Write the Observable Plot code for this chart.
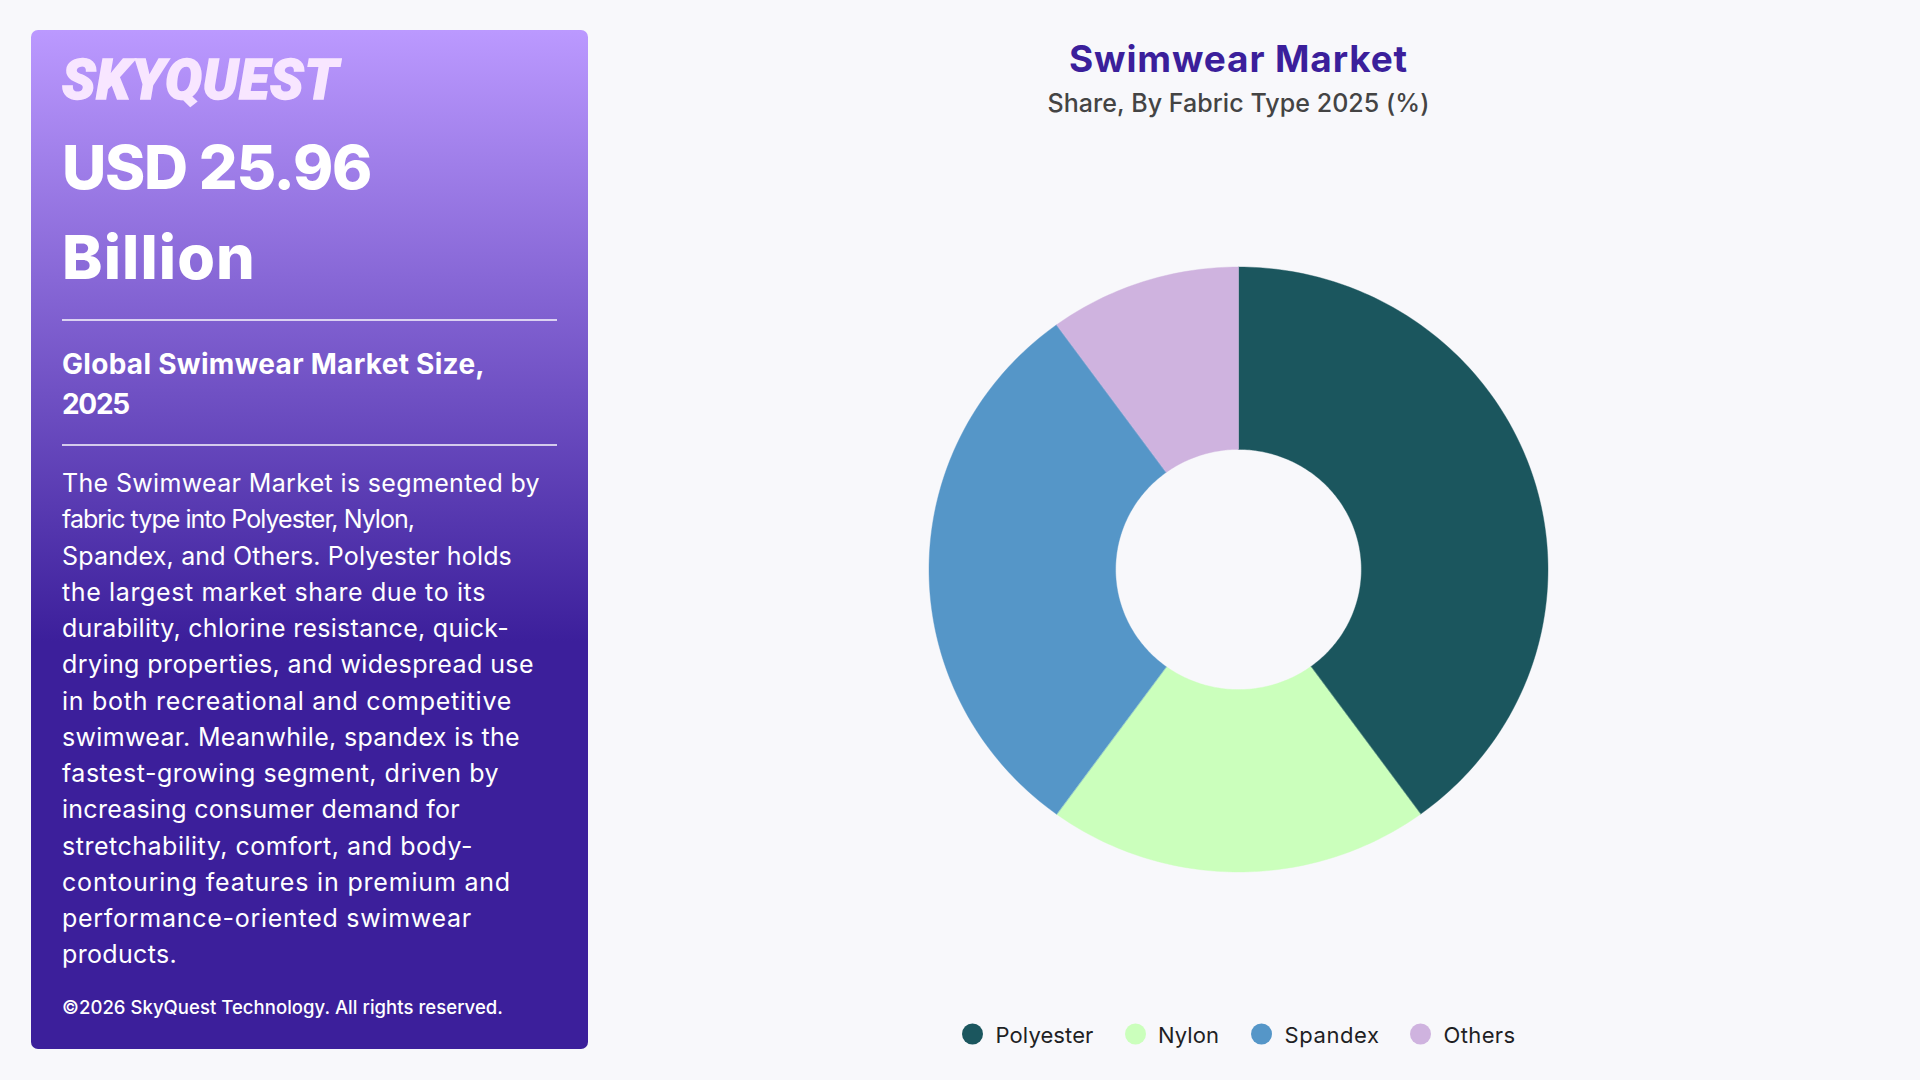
<!DOCTYPE html>
<html>
<head>
<meta charset="utf-8">
<script src="https://cdn.jsdelivr.net/npm/d3@7"></script>
<script src="https://cdn.jsdelivr.net/npm/@observablehq/plot@0.6"></script>
<style>
html,body{margin:0;padding:0;width:1920px;height:1080px;overflow:hidden;background:#F8F8FB;font-family:Inter,"Open Sans",sans-serif;}
#panel{position:absolute;left:31px;top:30px;width:557px;height:1019px;border-radius:7px;background:linear-gradient(180deg,#BB99FF 0%,#3C1F9B 60%,#3C1F9B 100%);}
.t{position:absolute;white-space:nowrap;transform:translateY(-50%);line-height:1;}
.rule{position:absolute;left:62px;width:495px;height:2px;background:rgba(255,255,255,.72);}
#chart{position:absolute;left:620px;top:130px;}
#legend span.d{position:absolute;width:21px;height:21px;border-radius:50%;transform:translateY(-50%);}
</style>
</head>
<body>
<div id="panel"></div>
<div id="root"></div>
<div id="chart"></div>
<div id="legend"></div>
<script>
const categories = ["Polyester", "Nylon", "Spandex", "Others"];
const shares = [40, 20, 30, 10];
const colors = ["#1B565E", "#CBFFBC", "#5596C8", "#CFB3DF"];
const brand = "SKYQUEST";
const headline = ["USD 25.96", "Billion"];
const subhead = ["Global Swimwear Market Size,", "2025"];
const paragraph = [
  "The Swimwear Market is segmented by",
  "fabric type into Polyester, Nylon,",
  "Spandex, and Others. Polyester holds",
  "the largest market share due to its",
  "durability, chlorine resistance, quick-",
  "drying properties, and widespread use",
  "in both recreational and competitive",
  "swimwear. Meanwhile, spandex is the",
  "fastest-growing segment, driven by",
  "increasing consumer demand for",
  "stretchability, comfort, and body-",
  "contouring features in premium and",
  "performance-oriented swimwear",
  "products."
];
const copyright = "©2026 SkyQuest Technology. All rights reserved.";
const title = "Swimwear Market";
const subtitle = "Share, By Fabric Type 2025 (%)";

const root = document.getElementById("root");
function put(text, x, y, size, weight, color, target, extra) {
  const el = document.createElement("div");
  el.className = "t";
  el.textContent = text;
  el.style.cssText = `left:${x}px;top:${y}px;font-size:${size}px;font-weight:${weight};color:${color};${extra||""}`;
  root.appendChild(el);
  if (target) {
    const w = el.getBoundingClientRect().width;
    el.style.letterSpacing = ((target - w) / text.length) + "px";
  }
  return el;
}
put(brand, 62, 80, 55, 900, "#F8E6FF", 277, "font-family:Roboto,Inter;font-style:italic;-webkit-text-stroke:1.5px #F8E6FF;");
put(headline[0], 62, 167, 61, 800, "#fff", 309);
put(headline[1], 62, 257, 61, 800, "#fff", 194);
put(subhead[0], 62, 364, 28, 700, "#fff", 423);
put(subhead[1], 62, 404, 28, 700, "#fff", 67);
const paraWidths = [478, 352, 450, 424, 447, 472, 450, 458, 437, 398, 411, 449, 410, 115];
paragraph.forEach((line, i) => put(line, 62, 483 + i * 36.25, 25, 400, "#fff", paraWidths[i]));
put(copyright, 62, 1007, 18.5, 500, "#fff", 441);
put(title, 1238.5, 58, 37, 700, "#3B1F9B", 339, "transform:translate(-50%,-50%);");
put(subtitle, 1238.5, 103, 25, 500, "#444", 382, "transform:translate(-50%,-50%);");
[320, 445].forEach(y => {
  const r = document.createElement("div");
  r.className = "rule";
  r.style.top = (y - 1) + "px";
  root.appendChild(r);
});

// Annular sectors from the shares
const total = d3.sum(shares);
const inner = 0.397;
let acc = 0;
const sectorPoints = [];
categories.forEach((c, i) => {
  const a0 = acc / total * 2 * Math.PI;
  acc += shares[i];
  const a1 = acc / total * 2 * Math.PI;
  const n = Math.ceil((a1 - a0) / (Math.PI / 180));
  for (let k = 0; k <= n; k++) {
    const a = a0 + (a1 - a0) * k / n;
    sectorPoints.push({
      category: c,
      x1: inner * Math.sin(a), y1: inner * Math.cos(a),
      x2: Math.sin(a), y2: Math.cos(a)
    });
  }
});

const plotWidth = 1240, plotHeight = 880;
const cx = 618.5, cy = 439.5, rx = 309.5, ry = 302.5;
const plot = Plot.plot({
  width: plotWidth,
  height: plotHeight,
  margin: 0,
  style: {background: "transparent"},
  x: {domain: [-1, 1], range: [cx - rx, cx + rx], axis: null},
  y: {domain: [-1, 1], range: [cy + ry, cy - ry], axis: null},
  color: {domain: categories, range: colors},
  marks: [
    Plot.area(sectorPoints, {
      x1: "x1", y1: "y1", x2: "x2", y2: "y2",
      z: "category", fill: "category",
      stroke: "category", strokeWidth: 0.4
    })
  ]
});
document.getElementById("chart").appendChild(plot);

const legend = document.getElementById("legend");
const dotX = [972, 1135, 1261, 1420];
const labelX = [995.5, 1158, 1284.5, 1443.5];
const labelW = [98, 61, 95, 72];
categories.forEach((c, i) => {
  const d = document.createElement("span");
  d.className = "d";
  d.style.cssText = `left:${dotX[i] - 10.5}px;top:1034px;background:${colors[i]};`;
  legend.appendChild(d);
  const t = document.createElement("div");
  t.className = "t";
  t.textContent = c;
  t.style.cssText = `left:${labelX[i]}px;top:1035px;font-size:22px;color:#1f1f24;font-weight:400;`;
  legend.appendChild(t);
  const w = t.getBoundingClientRect().width;
  t.style.letterSpacing = ((labelW[i] - w) / c.length) + "px";
});
</script>
</body>
</html>
